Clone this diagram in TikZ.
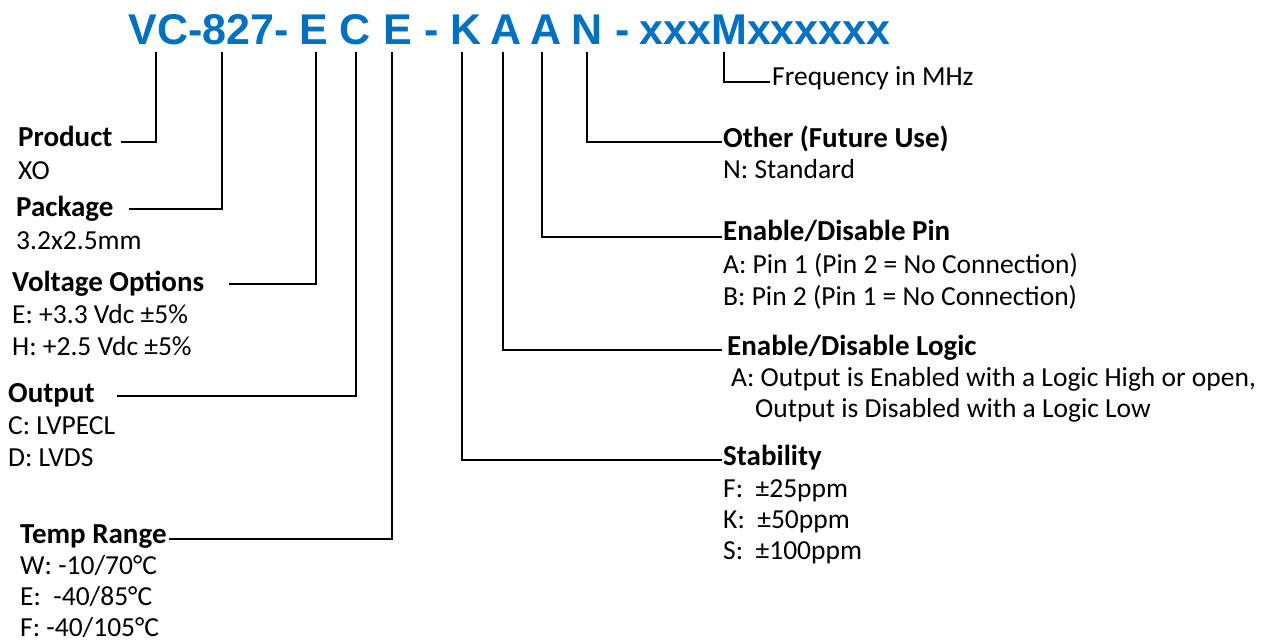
\documentclass[tikz,border=0pt]{standalone}
\usepackage{fontspec}
\setmainfont{Carlito}
\newfontfamily\codefont{Liberation Sans}
\usetikzlibrary{positioning}
\definecolor{partblue}{RGB}{0,112,192}

\begin{document}
\begin{tikzpicture}[x=1pt,y=-1pt,>=latex]
% --- styles -----------------------------------------------------
\tikzstyle{code}=[font=\codefont\bfseries\fontsize{43}{43}\selectfont,text=partblue,inner sep=0pt,anchor=base]
\tikzstyle{head}=[font=\bfseries\fontsize{29}{32}\selectfont,inner sep=0pt,anchor=base west]
\tikzstyle{opt}=[font=\fontsize{27.5}{31}\selectfont,inner sep=0pt,anchor=base west]
\tikzstyle{lead}=[line width=1.8pt]

\useasboundingbox (0,0) rectangle (1267,643);

% --- part number ------------------------------------------------
\node[code] (pVC) at (209,44) {VC-827-};
\node[code] (pE)  at (314,44) {E};
\node[code] (pC)  at (355,44) {C};
\node[code] (pT)  at (398,44) {E};
\node[code] (d1)  at (432,44) {-};
\node[code] (pK)  at (466,44) {K};
\node[code] (pA)  at (506,44) {A};
\node[code] (pB)  at (546,44) {A};
\node[code] (pN)  at (587,44) {N};
\node[code] (d2)  at (623,44) {-};
\node[code] (pF)  at (765,44) {xxxMxxxxxx};

% drop points under the code
\coordinate (cProd)  at (156,52);
\coordinate (cPack)  at (222,52);
\coordinate (cVolt)  at (316,52);
\coordinate (cOutp)  at (356,52);
\coordinate (cTemp)  at (392,52);
\coordinate (cStab)  at (462,52);
\coordinate (cLogic) at (503,52);
\coordinate (cPin)   at (542,52);
\coordinate (cOther) at (587,52);
\coordinate (cFreq)  at (724,52);

% --- left column ------------------------------------------------
\node[head] (prod) at (18,146) {Product};
\node[opt]  (prodA) at (18,179) {XO};
\node[head] (pack) at (16,216) {Package};
\node[opt]  (packA) at (16,249) {3.2x2.5mm};
\node[head] (volt) at (12,291) {Voltage Options};
\node[opt]  (voltE) at (12,323) {E: +3.3 Vdc ±5\%};
\node[opt]  (voltH) at (12,355) {H: +2.5 Vdc ±5\%};
\node[head] (outp) at (8,402) {Output};
\node[opt]  (outpC) at (8,434) {C: LVPECL};
\node[opt]  (outpD) at (8,466) {D: LVDS};
\node[head] (temp) at (20,543) {Temp Range};
\node[opt]  (tempW) at (20,574) {W: -10/70°C};
\node[opt]  (tempE) at (20,605) {E:\ \ -40/85°C};
\node[opt]  (tempF) at (20,636) {F: -40/105°C};

% --- right column -----------------------------------------------
\node[opt]  (freq) at (772,85) {Frequency in MHz};
\node[head] (other) at (723,147) {Other (Future Use)};
\node[opt]  (otherN) at (723,178) {N: Standard};
\node[head] (pin) at (723,240) {Enable/Disable Pin};
\node[opt]  (pinA) at (723,273) {A: Pin 1 (Pin 2 = No Connection)};
\node[opt]  (pinB) at (723,305) {B: Pin 2 (Pin 1 = No Connection)};
\node[head] (logic) at (727,355) {Enable/Disable Logic};
\node[opt]  (logicA) at (731,386) {A: Output is Enabled with a Logic High or open,};
\node[opt]  (logicB) at (755,417) {Output is Disabled with a Logic Low};
\node[head] (stab) at (723,465) {Stability};
\node[opt]  (stabF) at (723,497) {F:\ \ ±25ppm};
\node[opt]  (stabK) at (723,528) {K:\ \ ±50ppm};
\node[opt]  (stabS) at (723,559) {S:\ \ ±100ppm};

% --- leaders ----------------------------------------------------
\draw[lead] ([xshift=8pt,yshift=4pt]prod.base east) -| (cProd);
\draw[lead] ([xshift=15pt,yshift=7pt]pack.base east) -| (cPack);
\draw[lead] ([xshift=25pt,yshift=7pt]volt.base east) -| (cVolt);
\draw[lead] ([xshift=22pt,yshift=6pt]outp.base east) -| (cOutp);
\draw[lead] ([xshift=2pt,yshift=4pt]temp.base east) -| (cTemp);

\draw[lead] (cOther) |- ([xshift=-1pt,yshift=5pt]other.base west);
\draw[lead] (cPin)   |- ([xshift=-1pt,yshift=3pt]pin.base west);
\draw[lead] (cLogic) |- ([xshift=-5pt,yshift=5pt]logic.base west);
\draw[lead] (cStab)  |- ([xshift=-1pt,yshift=5pt]stab.base west);
\draw[lead] (cFreq)  |- ([xshift=-2pt,yshift=3pt]freq.base west);
\end{tikzpicture}
\end{document}
